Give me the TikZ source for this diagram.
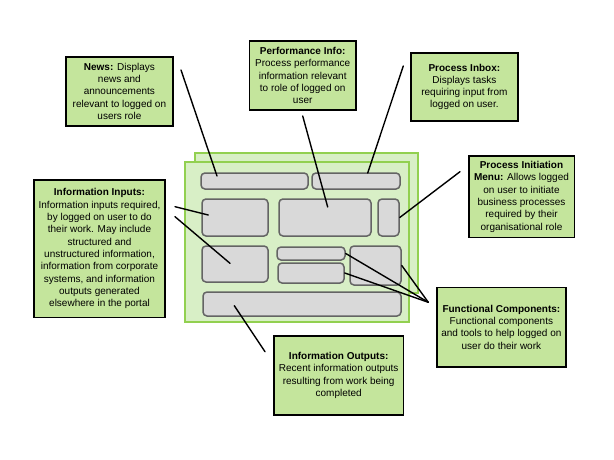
\documentclass[tikz,border=0pt]{standalone}
\usepackage{fontspec}
\setmainfont{Liberation Sans}
\usetikzlibrary{positioning}

\definecolor{notegreen}{RGB}{196,229,156}
\definecolor{panelgreen}{RGB}{216,239,198}
\definecolor{framegreen}{RGB}{146,208,80}
\definecolor{partgray}{RGB}{217,217,217}
\definecolor{partedge}{RGB}{100,100,100}

\tikzset{
    note/.style={draw=black, line width=1.6pt, fill=notegreen, align=center,
        inner sep=1pt, font=\fontsize{10}{12.3}\selectfont},
    panel/.style={draw=framegreen, line width=1.3pt, fill=panelgreen},
    part/.style={draw=partedge, line width=1.5pt, fill=partgray,
        rounded corners=4pt, inner sep=0pt},
    lead/.style={line width=1.4pt, line cap=round}
}

\begin{document}
\begin{tikzpicture}[x=1pt, y=-1pt]
        \useasboundingbox (0,0) rectangle (614,460);

        \draw[panel] (195,153) rectangle (418,293);
        \draw[panel] (185,162) rectangle (409,322);

        \node[part, minimum width=107pt, minimum height=16pt] (newsbar) at (254.5,181) {};
        \node[part, minimum width=88pt, minimum height=16pt] (inboxbar) at (356,181) {};
        \node[part, minimum width=66pt, minimum height=37pt] (inputa) at (235,217.5) {};
        \node[part, minimum width=92pt, minimum height=37pt] (perfpane) at (325,217.5) {};
        \node[part, minimum width=21pt, minimum height=37pt] (menupane) at (388.5,217.5) {};
        \node[part, minimum width=66pt, minimum height=36pt] (inputb) at (235,264) {};
        \node[part, minimum width=68pt, minimum height=13pt] (toola) at (311,253.5) {};
        \node[part, minimum width=66pt, minimum height=20pt] (toolb) at (311,273) {};
        \node[part, minimum width=51pt, minimum height=39pt] (toolbox) at (375.5,265.5) {};
        \node[part, minimum width=198pt, minimum height=24pt] (outbar) at (302,304) {};

        \node[note, minimum width=106.7pt, minimum height=69.3pt] (news) at (119.4,91.4)
            {\textbf{News:} Displays\\ news and\\ announcements\\ relevant to logged on\\ users role};
        \node[note, minimum width=106.7pt, minimum height=69pt] (perf) at (302.7,75.5)
            {\textbf{Performance Info:}\\ Process performance\\ information relevant\\ to role of logged on\\ user};
        \node[note, minimum width=106.7pt, minimum height=68.3pt] (inbox) at (464.4,86.9)
            {\textbf{Process Inbox:}\\ Displays tasks\\ requiring input from\\ logged on user.};
        \node[note, minimum width=105.6pt, minimum height=81.3pt] (menu) at (521.5,196.7)
            {\textbf{Process Initiation}\\ \textbf{Menu:} Allows logged\\ on user to initiate\\ business processes\\ required by their\\ organisational role};
        \node[note, minimum width=131pt, minimum height=137.3pt] (inputs) at (99.5,248.7)
            {\textbf{Information Inputs:}\\ Information inputs required,\\ by logged on user to do\\ their work. May include\\ structured and\\ unstructured information,\\ information from corporate\\ systems, and information\\ outputs generated\\ elsewhere in the portal};
        \node[note, minimum width=129.3pt, minimum height=79.4pt] (func) at (501.4,327)
            {\textbf{Functional Components:}\\ Functional components\\ and tools to help logged on\\ user do their work};
        \node[note, minimum width=129.3pt, minimum height=79pt] (outs) at (338.7,375.5)
            {\textbf{Information Outputs:}\\ Recent information outputs\\ resulting from work being\\ completed};

        \coordinate (newsfrom) at (181,70);
        \coordinate (newsto) at (217,176);
        \coordinate (perffrom) at (302.7,116);
        \coordinate (perfto) at (327.7,207);
        \coordinate (inboxfrom) at (403.3,66);
        \coordinate (inboxto) at (367.7,173);
        \coordinate (menufrom) at (460,171.7);
        \coordinate (inputfroma) at (175,206.7);
        \coordinate (inputtoa) at (208.3,215);
        \coordinate (inputfromb) at (175,216.7);
        \coordinate (inputtob) at (230,263.3);
        \coordinate (funcfrom) at (428.3,302.3);
        \coordinate (outfrom) at (265,351.7);
        \coordinate (outto) at (234.3,305.7);

        \draw[lead] (newsfrom) -- (newsto);
        \draw[lead] (perffrom) -- (perfto);
        \draw[lead] (inboxfrom) -- (inboxto);
        \draw[lead] (menufrom) -- (menupane.east);
        \draw[lead] (inputfroma) -- (inputtoa);
        \draw[lead] (inputfromb) -- (inputtob);
        \foreach \t in {toola,toolb,toolbox}
            \draw[lead] (funcfrom) -- (\t.east);
        \draw[lead] (outfrom) -- (outto);
    \end{tikzpicture}
\end{document}
